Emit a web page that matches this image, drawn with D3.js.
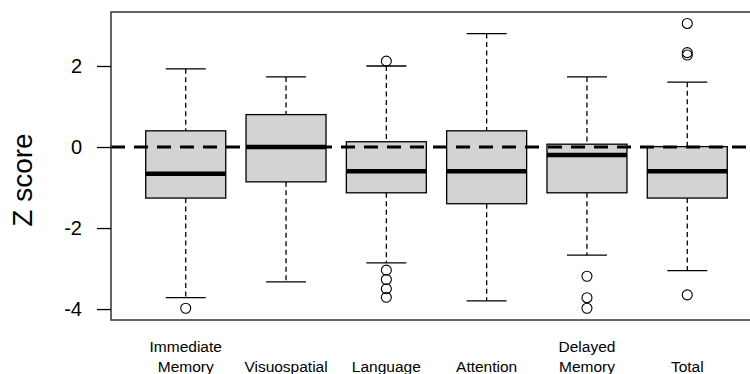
<!DOCTYPE html>
<html>
<head>
<meta charset="utf-8">
<script src="https://cdn.jsdelivr.net/npm/d3@7"></script>
<style>
  body { margin: 0; background: #fff; }
  svg { display: block; font-family: Arial, "Liberation Sans", sans-serif; }
</style>
</head>
<body>
<div id="chart"></div>
<script>
// category labels (split over lines as in the figure)
var domains = [["Immediate", "Memory"], ["Visuospatial"], ["Language"], ["Attention"], ["Delayed", "Memory"], ["Total"]];
// box statistics (z score)
var whiskLo = [-3.72, -3.33, -2.86, -3.80, -2.67, -3.05];
var q1      = [-1.26, -0.86, -1.13, -1.40, -1.13, -1.26];
var medians = [-0.66,  0.00, -0.60, -0.60, -0.20, -0.60];
var q3      = [ 0.40,  0.80,  0.13,  0.40,  0.07,  0.01];
var whiskHi = [ 1.93,  1.73,  2.00,  2.80,  1.73,  1.60];
var outliers = [
  [-3.98],
  [],
  [2.12, -3.04, -3.27, -3.50, -3.71],
  [],
  [-3.19, -3.72, -3.98],
  [3.05, 2.33, 2.27, -3.65]
];
var yTicks = [-4, -2, 0, 2];

var width = 750, height = 374;
var svg = d3.select("#chart").append("svg")
  .attr("width", width)
  .attr("height", height);

var margin = {left: 111, top: 12, bottom: 320, right: 762};

var x = d3.scaleLinear().domain([0.255, 6.745]).range([margin.left, margin.right]);
var y = d3.scaleLinear().domain([-4.27, 3.333]).range([margin.bottom, margin.top]);

var boxW = 80, capW = 40;

var g = svg.selectAll(".box")
  .data(domains)
  .enter().append("g")
  .attr("class", "box");

// whiskers (dashed)
g.append("line")
  .attr("x1", function(d, i) { return x(i + 1); })
  .attr("x2", function(d, i) { return x(i + 1); })
  .attr("y1", function(d, i) { return y(whiskHi[i]); })
  .attr("y2", function(d, i) { return y(q3[i]); })
  .style("stroke", "#000").style("stroke-width", 1.3).style("stroke-dasharray", "5,3.5");
g.append("line")
  .attr("x1", function(d, i) { return x(i + 1); })
  .attr("x2", function(d, i) { return x(i + 1); })
  .attr("y1", function(d, i) { return y(q1[i]); })
  .attr("y2", function(d, i) { return y(whiskLo[i]); })
  .style("stroke", "#000").style("stroke-width", 1.3).style("stroke-dasharray", "5,3.5");

// caps
g.append("line")
  .attr("x1", function(d, i) { return x(i + 1) - capW / 2; })
  .attr("x2", function(d, i) { return x(i + 1) + capW / 2; })
  .attr("y1", function(d, i) { return y(whiskHi[i]); })
  .attr("y2", function(d, i) { return y(whiskHi[i]); })
  .style("stroke", "#000").style("stroke-width", 1.3);
g.append("line")
  .attr("x1", function(d, i) { return x(i + 1) - capW / 2; })
  .attr("x2", function(d, i) { return x(i + 1) + capW / 2; })
  .attr("y1", function(d, i) { return y(whiskLo[i]); })
  .attr("y2", function(d, i) { return y(whiskLo[i]); })
  .style("stroke", "#000").style("stroke-width", 1.3);

// boxes
g.append("rect")
  .attr("x", function(d, i) { return x(i + 1) - boxW / 2; })
  .attr("y", function(d, i) { return y(q3[i]); })
  .attr("width", boxW)
  .attr("height", function(d, i) { return y(q1[i]) - y(q3[i]); })
  .style("fill", "#d3d3d3")
  .style("stroke", "#000")
  .style("stroke-width", 1.3);

// medians
g.append("line")
  .attr("x1", function(d, i) { return x(i + 1) - boxW / 2; })
  .attr("x2", function(d, i) { return x(i + 1) + boxW / 2; })
  .attr("y1", function(d, i) { return y(medians[i]); })
  .attr("y2", function(d, i) { return y(medians[i]); })
  .style("stroke", "#000").style("stroke-width", 4.5);

// outliers
g.each(function(d, i) {
  d3.select(this).selectAll("circle")
    .data(outliers[i])
    .enter().append("circle")
    .attr("cx", x(i + 1))
    .attr("cy", function(v) { return y(v); })
    .attr("r", 5)
    .style("fill", "none")
    .style("stroke", "#000")
    .style("stroke-width", 1.1);
});

// reference line at 0
svg.append("line")
  .attr("x1", margin.left).attr("x2", margin.right)
  .attr("y1", y(0)).attr("y2", y(0))
  .style("stroke", "#000")
  .style("stroke-width", 3.2)
  .style("stroke-dasharray", "14,9");

// frame
svg.append("rect")
  .attr("x", margin.left).attr("y", margin.top)
  .attr("width", margin.right - margin.left).attr("height", margin.bottom - margin.top)
  .style("fill", "none").style("stroke", "#333").style("stroke-width", 1.5);

// y axis
var yAxis = d3.axisLeft(y).tickValues(yTicks).tickSize(14).tickPadding(15)
  .tickFormat(function(d) { return String(d); });
var ya = svg.append("g").attr("transform", "translate(" + margin.left + ",0)").call(yAxis);
ya.select(".domain").remove();
ya.attr("font-family", null).attr("font-size", null);
ya.selectAll(".tick line").style("stroke", "#000").style("stroke-width", 1.3);
ya.selectAll(".tick text")
  .style("font-size", "20px")
  .style("fill", "#000");

svg.append("text")
  .attr("transform", "translate(32," + ((margin.top + margin.bottom) / 2 + 14) + ") rotate(-90)")
  .attr("text-anchor", "middle")
  .style("font-size", "28px")
  .text("Z score");

// category labels
svg.selectAll(".cat")
  .data(domains)
  .enter().append("text")
  .attr("class", "cat")
  .attr("text-anchor", "middle")
  .attr("x", function(d, i) { return x(i + 1); })
  .attr("y", function(d) { return d.length > 1 ? 352 : 372; })
  .style("font-size", "15.5px")
  .each(function(d, i) {
    var t = d3.select(this);
    d.forEach(function(line, k) {
      t.append("tspan")
        .attr("x", x(i + 1))
        .attr("dy", k === 0 ? 0 : 20)
        .text(line);
    });
  });
</script>
</body>
</html>
